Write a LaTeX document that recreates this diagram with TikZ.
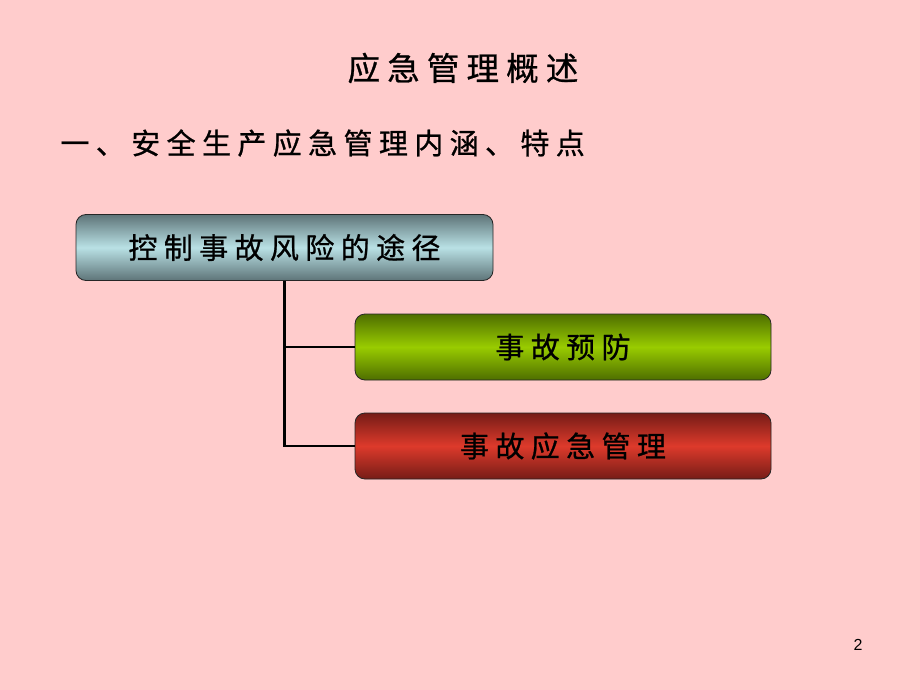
\documentclass[tikz,border=0pt]{standalone}
\usepackage{fontspec}
\newfontfamily\cjk[LetterSpace=22,FakeBold=0.8]{Noto Sans CJK SC}
\setsansfont{Liberation Sans}
\definecolor{bg}{HTML}{FFCCCC}
\definecolor{tealdark}{HTML}{5E7478}
\definecolor{teallight}{HTML}{B9E1E5}
\definecolor{greendark}{HTML}{4E6E00}
\definecolor{greenlight}{HTML}{99CC00}
\definecolor{reddark}{HTML}{761C17}
\definecolor{redlight}{HTML}{DD3A2B}
\tikzset{
  boxbase/.style={draw=black!85, line width=0.8pt, rounded corners=10pt, minimum height=66pt, inner sep=0pt, font=\cjk\fontsize{29}{29}\selectfont},
  tealbox/.style={boxbase, minimum width=417pt, top color=tealdark, bottom color=tealdark, middle color=teallight},
  greenbox/.style={boxbase, minimum width=416pt, top color=greendark, bottom color=greendark, middle color=greenlight},
  redbox/.style={boxbase, minimum width=416pt, top color=reddark, bottom color=reddark, middle color=redlight},
  conn/.style={line width=2.6pt, black}
}
\begin{document}
\begin{tikzpicture}[x=1pt,y=-1pt]
\useasboundingbox (0,0) rectangle (920,690);
\fill[bg] (0,0) rectangle (920,690);
\node[font=\cjk\fontsize{32.5}{32.5}\selectfont] (title) at (463,68) {应急管理概述};
\node[font=\cjk\fontsize{29}{29}\selectfont, anchor=west] (sub) at (57,143) {一、安全生产应急管理内涵、特点};
\node[tealbox] (root) at (284.5,247.5) {控制事故风险的途径};
\node[greenbox] (prev) at (563,347) {事故预防};
\node[redbox] (emer) at (563,446) {事故应急管理};
\coordinate (j1) at (root.south |- prev.west);
\coordinate (j2) at (root.south |- emer.west);
\draw[conn] (root.south) -- (j2) -- (emer.west);
\draw[conn] (j1) -- (prev.west);
\node[font=\sffamily\fontsize{16}{16}\selectfont] (pg) at (858,645) {2};
\end{tikzpicture}
\end{document}
